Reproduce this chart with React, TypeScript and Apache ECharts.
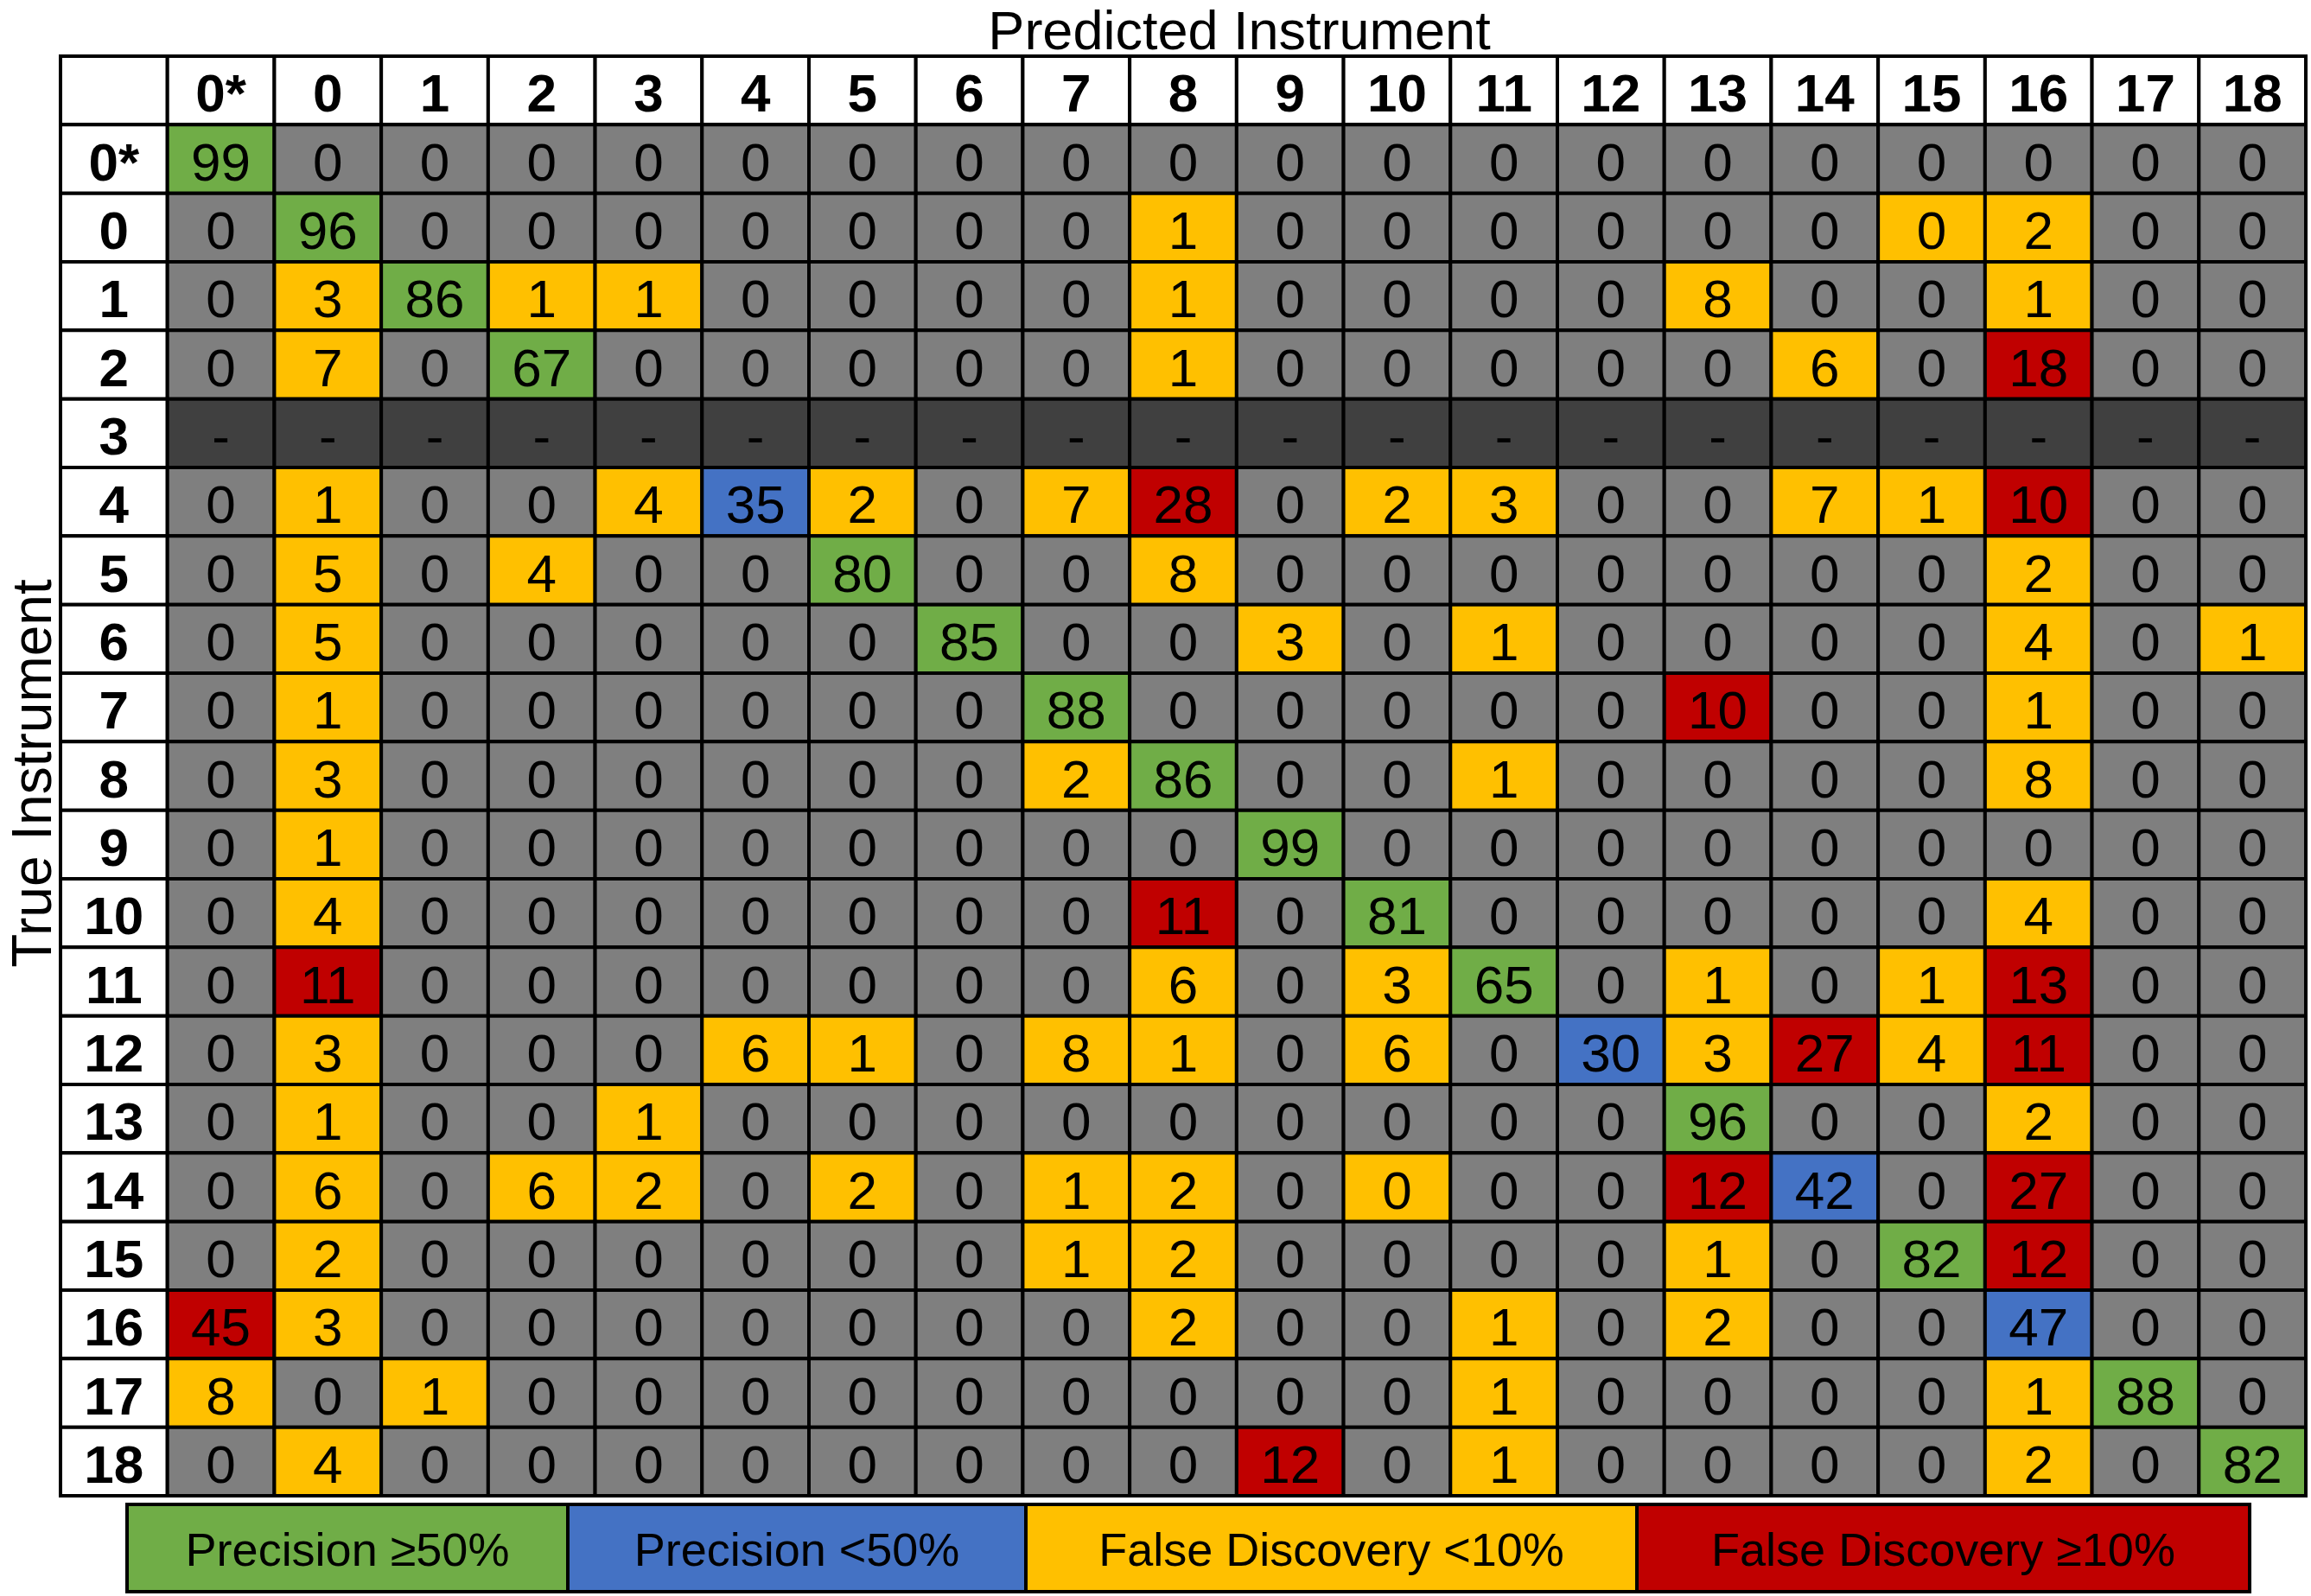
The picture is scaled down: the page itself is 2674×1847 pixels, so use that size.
import React, { useEffect, useRef } from "react";
import * as echarts from "echarts";

const predictedLabels = ["0*", "0", "1", "2", "3", "4", "5", "6", "7", "8", "9", "10", "11", "12", "13", "14", "15", "16", "17", "18"];
const trueLabels = ["0*", "0", "1", "2", "3", "4", "5", "6", "7", "8", "9", "10", "11", "12", "13", "14", "15", "16", "17", "18"];

// percentage values per true-instrument row (null = no samples, shown as "-")
const confusionValues: (number | null)[][] = [
  [99, 0, 0, 0, 0, 0, 0, 0, 0, 0, 0, 0, 0, 0, 0, 0, 0, 0, 0, 0],
  [0, 96, 0, 0, 0, 0, 0, 0, 0, 1, 0, 0, 0, 0, 0, 0, 0, 2, 0, 0],
  [0, 3, 86, 1, 1, 0, 0, 0, 0, 1, 0, 0, 0, 0, 8, 0, 0, 1, 0, 0],
  [0, 7, 0, 67, 0, 0, 0, 0, 0, 1, 0, 0, 0, 0, 0, 6, 0, 18, 0, 0],
  [null, null, null, null, null, null, null, null, null, null, null, null, null, null, null, null, null, null, null, null],
  [0, 1, 0, 0, 4, 35, 2, 0, 7, 28, 0, 2, 3, 0, 0, 7, 1, 10, 0, 0],
  [0, 5, 0, 4, 0, 0, 80, 0, 0, 8, 0, 0, 0, 0, 0, 0, 0, 2, 0, 0],
  [0, 5, 0, 0, 0, 0, 0, 85, 0, 0, 3, 0, 1, 0, 0, 0, 0, 4, 0, 1],
  [0, 1, 0, 0, 0, 0, 0, 0, 88, 0, 0, 0, 0, 0, 10, 0, 0, 1, 0, 0],
  [0, 3, 0, 0, 0, 0, 0, 0, 2, 86, 0, 0, 1, 0, 0, 0, 0, 8, 0, 0],
  [0, 1, 0, 0, 0, 0, 0, 0, 0, 0, 99, 0, 0, 0, 0, 0, 0, 0, 0, 0],
  [0, 4, 0, 0, 0, 0, 0, 0, 0, 11, 0, 81, 0, 0, 0, 0, 0, 4, 0, 0],
  [0, 11, 0, 0, 0, 0, 0, 0, 0, 6, 0, 3, 65, 0, 1, 0, 1, 13, 0, 0],
  [0, 3, 0, 0, 0, 6, 1, 0, 8, 1, 0, 6, 0, 30, 3, 27, 4, 11, 0, 0],
  [0, 1, 0, 0, 1, 0, 0, 0, 0, 0, 0, 0, 0, 0, 96, 0, 0, 2, 0, 0],
  [0, 6, 0, 6, 2, 0, 2, 0, 1, 2, 0, 0, 0, 0, 12, 42, 0, 27, 0, 0],
  [0, 2, 0, 0, 0, 0, 0, 0, 1, 2, 0, 0, 0, 0, 1, 0, 82, 12, 0, 0],
  [45, 3, 0, 0, 0, 0, 0, 0, 0, 2, 0, 0, 1, 0, 2, 0, 0, 47, 0, 0],
  [8, 0, 1, 0, 0, 0, 0, 0, 0, 0, 0, 0, 1, 0, 0, 0, 0, 1, 88, 0],
  [0, 4, 0, 0, 0, 0, 0, 0, 0, 0, 12, 0, 1, 0, 0, 0, 0, 2, 0, 82],
];

// cell class per row: G precision>=50, B precision<50, Y false discovery<10, R false discovery>=10, . none, - no data
const cellClasses: string[] = [
  "G...................",
  ".G.......Y......YY..",
  ".YGYY....Y....Y..Y..",
  ".Y.G.....Y.....Y.R..",
  "--------------------",
  ".Y..YBY.YR.YY..YYR..",
  ".Y.Y..G..Y.......Y..",
  ".Y.....G..Y.Y....Y.Y",
  ".Y......G.....R..Y..",
  ".Y......YG..Y....Y..",
  ".Y........G.........",
  ".Y.......R.G.....Y..",
  ".R.......Y.YG.Y.YR..",
  ".Y...YY.YY.Y.BYRYR..",
  ".Y..Y.........G..Y..",
  ".Y.YY.Y.YY.Y..RB.R..",
  ".Y......YY....Y.GR..",
  "RY.......Y..Y.Y..B..",
  "Y.Y.........Y....YG.",
  ".Y........R.Y....Y.G",
];

const legendLabels = ["Precision \u226550%", "Precision <50%", "False Discovery <10%", "False Discovery \u226510%"];
const legendClasses = ["G", "B", "Y", "R"];

const classColors: Record<string, string> = {
  G: "#70AD47",
  B: "#4472C4",
  Y: "#FFC000",
  R: "#C00000",
  ".": "#7F7F7F",
  "-": "#404040",
  H: "#FFFFFF",
};

const FONT = "Liberation Sans, Arial, Helvetica, sans-serif";

type Cell = { col: number; row: number; text: string; cls: string; bold: boolean };

function buildCells(): Cell[] {
  const cells: Cell[] = [];
  cells.push({ col: 0, row: 0, text: "", cls: "H", bold: true });
  predictedLabels.forEach((l, j) => cells.push({ col: j + 1, row: 0, text: l, cls: "H", bold: true }));
  trueLabels.forEach((l, i) => {
    cells.push({ col: 0, row: i + 1, text: l, cls: "H", bold: true });
    confusionValues[i].forEach((v, j) => {
      cells.push({
        col: j + 1,
        row: i + 1,
        text: v === null ? "-" : String(v),
        cls: cellClasses[i][j],
        bold: false,
      });
    });
  });
  return cells;
}

export default function App() {
  const ref = useRef<HTMLDivElement>(null);
  useEffect(() => {
    if (!ref.current) return;
    const chart = echarts.init(ref.current, undefined, { renderer: "svg" });
    const cells = buildCells();
    const xCats = ["", ...predictedLabels];
    const yCats = ["", ...trueLabels];

    const legendEdges = [147, 657, 1187, 1894, 2603];
    const legendTop = 1741;
    const legendHeight = 101;

    const legendChildren: any[] = [];
    legendLabels.forEach((label, k) => {
      const x0 = legendEdges[k];
      const w = legendEdges[k + 1] - legendEdges[k];
      legendChildren.push({
        type: "rect",
        shape: { x: x0, y: legendTop, width: w, height: legendHeight },
        style: { fill: classColors[legendClasses[k]], stroke: "#000", lineWidth: 4 },
      });
      legendChildren.push({
        type: "text",
        x: x0 + w / 2,
        y: legendTop + legendHeight / 2 + 1,
        style: {
          text: label,
          fill: "#000",
          fontSize: 54,
          fontFamily: FONT,
          align: "center",
          verticalAlign: "middle",
        },
      });
    });

    chart.setOption({
      animation: false,
      backgroundColor: "#FFFFFF",
      grid: { left: 70, top: 65, width: 2598, height: 1666, containLabel: false },
      xAxis: { type: "category", data: xCats, show: false, position: "top" },
      yAxis: { type: "category", data: yCats, show: false, inverse: true },
      graphic: [
        {
          type: "text",
          x: 1434,
          y: 35,
          style: {
            text: "Predicted Instrument",
            fill: "#000",
            fontSize: 63,
            fontFamily: FONT,
            align: "center",
            verticalAlign: "middle",
          },
        },
        {
          type: "text",
          x: 37,
          y: 895,
          rotation: Math.PI / 2,
          style: {
            text: "True Instrument",
            fill: "#000",
            fontSize: 64,
            fontFamily: FONT,
            align: "center",
            verticalAlign: "middle",
          },
        },
        { type: "group", children: legendChildren },
      ],
      series: [
        {
          type: "custom",
          coordinateSystem: "cartesian2d",
          encode: { x: 0, y: 1 },
          data: cells.map((c) => [c.col, c.row]),
          renderItem: (params: any, api: any) => {
            const cell = cells[params.dataIndex];
            const c = api.coord([api.value(0), api.value(1)]);
            const s = api.size([1, 1]);
            return {
              type: "group",
              children: [
                {
                  type: "rect",
                  shape: { x: c[0] - s[0] / 2, y: c[1] - s[1] / 2, width: s[0], height: s[1] },
                  style: { fill: classColors[cell.cls], stroke: "#000", lineWidth: 4 },
                },
                {
                  type: "text",
                  x: c[0],
                  y: c[1] + 3,
                  style: {
                    text: cell.text,
                    fill: "#000",
                    fontSize: 62,
                    fontWeight: cell.bold ? "bold" : "normal",
                    fontFamily: FONT,
                    align: "center",
                    verticalAlign: "middle",
                  },
                },
              ],
            };
          },
        },
      ],
    });
    return () => chart.dispose();
  }, []);
  return (
    <div
      ref={ref}
      style={{ position: "absolute", left: 0, top: 0, width: 2674, height: 1847 }}
    />
  );
}
